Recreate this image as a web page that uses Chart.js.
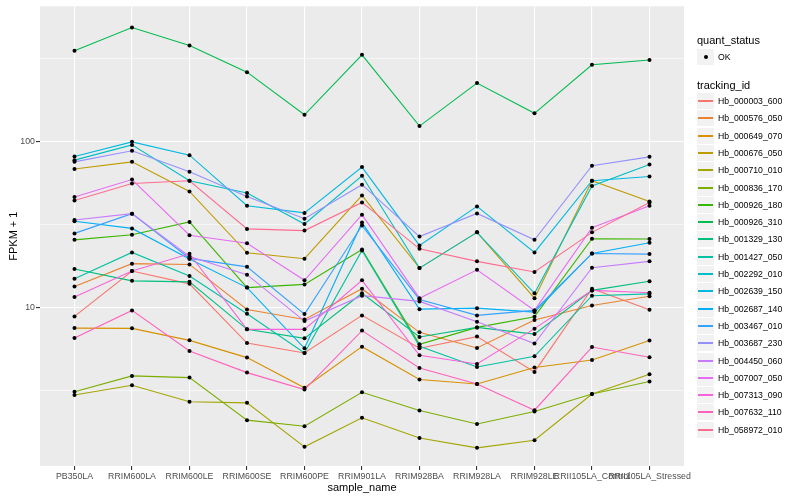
<!DOCTYPE html>
<html><head><meta charset="utf-8">
<script src="https://cdn.jsdelivr.net/npm/chart.js@4.4.1/dist/chart.umd.min.js"></script>
<style>
html,body{margin:0;padding:0;background:#fff;}
#wrap{position:relative;width:800px;height:500px;font-family:"Liberation Sans",Arial,sans-serif;}
#c{position:absolute;left:0;top:0;}
.lg{position:absolute;white-space:nowrap;color:#000;line-height:12px;}
.t{font-size:11px;}
.e{font-size:8.7px;line-height:10px;}
.key{position:absolute;width:17px;height:16px;background:#F2F2F2;}
.key i{position:absolute;left:1px;width:15px;top:7px;height:1.6px;display:block;}
.key b{position:absolute;left:6.5px;top:6px;width:4px;height:4px;border-radius:50%;background:#000;display:block;}
</style></head><body>
<div id="wrap"><canvas id="c" width="800" height="500"></canvas><div id="legend"></div></div>
<script>
const categories = ["PB350LA","RRIM600LA","RRIM600LE","RRIM600SE","RRIM600PE","RRIM901LA","RRIM928BA","RRIM928LA","RRIM928LE","RRII105LA_Control","RRII105LA_Stressed"];

const yMajorBreaks = [10, 100];
const yMinorBreaks = [3.1623, 31.623, 316.23];

const Hb_000003_600 = [8.85, 16.6, 13.9, 6.12, 5.33, 8.98, 5.69, 6.69, 4.10, 13.0, 9.71];
const Hb_000576_050 = [13.4, 18.4, 18.2, 9.75, 8.49, 13.0, 7.10, 5.71, 8.43, 10.3, 11.7];
const Hb_000649_070 = [7.53, 7.50, 6.35, 5.00, 3.29, 5.82, 3.69, 3.47, 4.36, 4.84, 6.33];
const Hb_000676_050 = [68.3, 75.5, 50.1, 21.4, 19.7, 47.4, 17.3, 28.4, 11.4, 58.1, 43.6];
const Hb_000710_010 = [2.98, 3.41, 2.71, 2.67, 1.45, 2.17, 1.64, 1.43, 1.59, 3.02, 3.97];
const Hb_000836_170 = [3.11, 3.88, 3.79, 2.10, 1.93, 3.09, 2.40, 1.99, 2.37, 3.02, 3.59];
const Hb_000926_180 = [25.6, 27.5, 32.8, 13.2, 13.8, 22.4, 6.01, 7.60, 8.82, 26.0, 25.9];
const Hb_000926_310 = [352, 486, 379, 262, 145, 333, 124, 225, 148, 290, 310];
const Hb_001329_130 = [17.1, 14.5, 14.3, 7.40, 6.53, 12.2, 6.65, 7.60, 6.93, 12.7, 14.4];
const Hb_001427_050 = [14.9, 21.5, 15.5, 9.19, 5.33, 22.1, 5.85, 4.39, 5.09, 11.8, 12.1];
const Hb_002292_010 = [77.3, 95.5, 58.1, 49.0, 31.9, 62.2, 17.3, 28.4, 12.2, 54.0, 72.8];
const Hb_002639_150 = [81.3, 99.6, 82.8, 41.1, 37.2, 70.2, 23.7, 40.7, 21.5, 58.1, 61.6];
const Hb_002687_140 = [33.1, 30.0, 19.6, 13.2, 5.69, 32.6, 9.79, 9.93, 9.40, 21.2, 24.6];
const Hb_003467_010 = [28.0, 36.8, 19.8, 17.6, 9.14, 31.2, 11.2, 8.98, 9.62, 21.2, 21.0];
const Hb_003687_230 = [75.5, 88.0, 65.8, 46.7, 34.3, 55.0, 26.8, 36.9, 25.6, 71.5, 80.9];
const Hb_004450_060 = [33.7, 36.8, 20.3, 15.8, 8.30, 11.8, 10.9, 8.23, 6.07, 17.4, 19.0];
const Hb_007007_050 = [46.4, 59.1, 27.3, 24.4, 14.6, 36.3, 11.4, 16.9, 9.62, 30.3, 41.1];
const Hb_007313_090 = [11.6, 16.6, 21.1, 7.40, 7.40, 14.6, 5.16, 4.58, 7.47, 12.7, 12.3];
const Hb_007632_110 = [6.56, 9.62, 5.48, 4.06, 3.21, 7.27, 4.33, 3.47, 2.41, 5.79, 5.02];
const Hb_058972_010 = [44.2, 55.9, 58.1, 29.8, 29.1, 43.0, 22.6, 19.0, 16.4, 28.4, 43.0];

const seriesNames = ["Hb_000003_600","Hb_000576_050","Hb_000649_070","Hb_000676_050","Hb_000710_010","Hb_000836_170","Hb_000926_180","Hb_000926_310","Hb_001329_130","Hb_001427_050","Hb_002292_010","Hb_002639_150","Hb_002687_140","Hb_003467_010","Hb_003687_230","Hb_004450_060","Hb_007007_050","Hb_007313_090","Hb_007632_110","Hb_058972_010"];
const seriesValues = [Hb_000003_600, Hb_000576_050, Hb_000649_070, Hb_000676_050, Hb_000710_010, Hb_000836_170, Hb_000926_180, Hb_000926_310, Hb_001329_130, Hb_001427_050, Hb_002292_010, Hb_002639_150, Hb_002687_140, Hb_003467_010, Hb_003687_230, Hb_004450_060, Hb_007007_050, Hb_007313_090, Hb_007632_110, Hb_058972_010];
const seriesColors = ["#F8766D","#EA8331","#D89000","#C09B00","#A3A500","#7CAE00","#39B600","#00BB4E","#00BF7D","#00C1A3","#00BFC4","#00BAE0","#00B0F6","#35A2FF","#9590FF","#C77CFF","#E76BF3","#FA62DB","#FF62BC","#FF6C91"];

Chart.defaults.font.family = "'Liberation Sans', Arial, sans-serif";

const toPts = arr => arr.map((v, i) => ({x: i, y: v}));
const datasets = [];
seriesValues.forEach((vals, i) => {
  datasets.push({
    label: seriesNames[i], data: toPts(vals), borderColor: seriesColors[i],
    borderWidth: 1.1, pointRadius: 0, tension: 0, fill: false,
    order: 1 + (seriesValues.length - 1 - i)
  });
});
seriesValues.forEach((vals, i) => {
  datasets.push({
    label: seriesNames[i] + " OK", data: toPts(vals), showLine: false,
    pointRadius: 2, pointBackgroundColor: "#000", pointBorderWidth: 0,
    borderColor: "#000", order: 0
  });
});

const panelBg = {
  id: 'panelBg',
  beforeDraw(chart) {
    const {ctx, chartArea: a} = chart;
    ctx.save(); ctx.fillStyle = '#EBEBEB';
    ctx.fillRect(a.left, a.top, a.right - a.left, a.bottom - a.top);
    ctx.restore();
  }
};

const isMajor = v => yMajorBreaks.includes(v);

new Chart(document.getElementById('c'), {
  type: 'line',
  data: { datasets },
  plugins: [panelBg],
  options: {
    responsive: false, animation: false,
    layout: { padding: { left: 0, right: 116, top: 5, bottom: 0 } },
    plugins: { legend: { display: false }, tooltip: { enabled: false } },
    scales: {
      x: {
        type: 'linear', min: -0.6, max: 10.6,
        afterBuildTicks: s => { s.ticks = categories.map((c, i) => ({ value: i })); },
        afterFit: s => { s.height = 34; },
        ticks: {
          autoSkip: false, maxRotation: 0, minRotation: 0, padding: 1,
          color: '#4D4D4D', font: { size: 8.8 },
          callback: v => categories[v] !== undefined ? categories[v] : ''
        },
        grid: { color: '#FFFFFF', lineWidth: 1.1, tickLength: 4, tickColor: '#333333', drawTicks: true },
        border: { display: false },
        title: { display: true, text: 'sample_name', color: '#000', font: { size: 11 }, padding: { top: 0, bottom: 5 } }
      },
      y: {
        type: 'logarithmic', min: 1.112, max: 653,
        afterBuildTicks: s => { s.ticks = yMinorBreaks.concat(yMajorBreaks).sort((a, b) => a - b).map(v => ({ value: v })); },
        afterFit: s => { s.width = 40; },
        ticks: {
          padding: 1, color: '#4D4D4D', font: { size: 8.8 },
          callback: v => isMajor(v) ? String(v) : ''
        },
        grid: {
          color: '#FFFFFF', tickLength: 4,
          lineWidth: ctx => (ctx.tick && isMajor(ctx.tick.value)) ? 1.1 : 0.55,
          tickColor: ctx => (ctx.tick && isMajor(ctx.tick.value)) ? '#333333' : 'rgba(0,0,0,0)'
        },
        border: { display: false },
        title: { display: true, text: 'FPKM + 1', color: '#000', font: { size: 11 }, padding: { top: 7, bottom: 0 } }
      }
    }
  }
});

// HTML legend
const lg = document.getElementById('legend');
function add(html) { lg.insertAdjacentHTML('beforeend', html); }
add('<div class="lg t" style="left:697px;top:34px;">quant_status</div>');
add('<div class="key" style="left:697px;top:49px;"><b></b></div>');
add('<div class="lg e" style="left:718px;top:52px;">OK</div>');
add('<div class="lg t" style="left:697px;top:79px;">tracking_id</div>');
seriesNames.forEach((n, i) => {
  const cy = Math.round(101 + 17.3 * i);
  add('<div class="key" style="left:697px;top:' + (cy - 8) + 'px;"><i style="background-color:' + seriesColors[i] + '"></i></div>');
  add('<div class="lg e" style="left:718px;top:' + (cy - 5) + 'px;">' + n + '</div>');
});
</script>
</body></html>
